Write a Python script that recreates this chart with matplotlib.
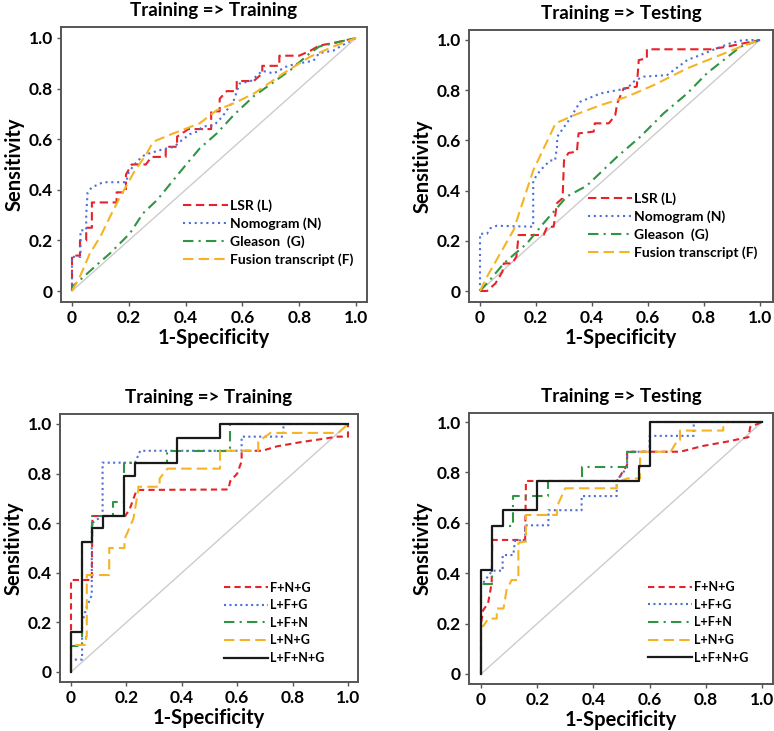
import matplotlib
matplotlib.use("Agg")
import matplotlib.pyplot as plt
import numpy as np

plt.rcParams['font.family'] = ['Lato', 'DejaVu Sans']
plt.rcParams['font.weight'] = 'bold'

# ---------------- data (1-specificity, sensitivity) ----------------
# Panel A: Training => Training (single markers)
lsr_train = [(0, 0), (0, 0.14), (0.028, 0.14), (0.028, 0.2), (0.05, 0.2), (0.05, 0.25), (0.07, 0.25),
             (0.07, 0.35), (0.157, 0.35), (0.157, 0.39), (0.19, 0.39), (0.19, 0.46), (0.21, 0.5),
             (0.26, 0.5), (0.28, 0.53), (0.33, 0.53), (0.33, 0.57), (0.37, 0.57), (0.37, 0.61),
             (0.41, 0.64), (0.49, 0.64), (0.49, 0.71), (0.52, 0.71), (0.52, 0.76), (0.545, 0.79),
             (0.58, 0.79), (0.58, 0.83), (0.64, 0.83), (0.67, 0.86), (0.67, 0.89), (0.73, 0.89),
             (0.73, 0.93), (0.8, 0.93), (0.84, 0.95), (0.87, 0.97), (0.92, 0.98), (1, 1)]
nomo_train = [(0, 0), (0, 0.135), (0.03, 0.135), (0.03, 0.24), (0.05, 0.24), (0.05, 0.3), (0.055, 0.39),
              (0.07, 0.41), (0.11, 0.43), (0.19, 0.43), (0.2, 0.47), (0.22, 0.5), (0.245, 0.53),
              (0.26, 0.54), (0.32, 0.56), (0.36, 0.57), (0.38, 0.59), (0.415, 0.62), (0.44, 0.63),
              (0.46, 0.65), (0.5, 0.655), (0.53, 0.69), (0.57, 0.755), (0.59, 0.82), (0.63, 0.83),
              (0.67, 0.87), (0.71, 0.86), (0.76, 0.89), (0.8, 0.9), (0.85, 0.91), (0.87, 0.94),
              (0.92, 0.95), (0.95, 0.97), (1, 1)]
glea_train = [(0, 0.0), (0, 0.017), (0.028, 0.043), (0.087, 0.103), (0.134, 0.149), (0.204, 0.228),
              (0.25, 0.307), (0.3, 0.36), (0.38, 0.47), (0.45, 0.564), (0.51, 0.623), (0.57, 0.696),
              (0.64, 0.77), (0.72, 0.834), (0.77, 0.874), (0.83, 0.933), (0.87, 0.966), (1, 1)]
fusi_train = [(0, 0), (0.028, 0.057), (0.063, 0.149), (0.1, 0.215), (0.134, 0.294), (0.17, 0.373),
              (0.216, 0.465), (0.263, 0.544), (0.286, 0.59), (0.357, 0.623), (0.45, 0.663),
              (0.51, 0.715), (0.57, 0.742), (0.64, 0.78), (0.744, 0.86), (0.838, 0.926),
              (0.92, 0.966), (1, 1)]

# Panel B: Training => Testing (single markers)
lsr_test = [(0, 0), (0.025, 0), (0.055, 0.03), (0.08, 0.077), (0.085, 0.11), (0.115, 0.11),
            (0.13, 0.137), (0.138, 0.223), (0.227, 0.223), (0.24, 0.256), (0.263, 0.256),
            (0.275, 0.35), (0.295, 0.37), (0.3, 0.52), (0.316, 0.55), (0.346, 0.555), (0.352, 0.628),
            (0.406, 0.635), (0.41, 0.668), (0.46, 0.668), (0.483, 0.7), (0.49, 0.748), (0.513, 0.807),
            (0.56, 0.814), (0.567, 0.92), (0.596, 0.927), (0.596, 0.963), (0.823, 0.963),
            (0.88, 0.973), (1, 1)]
nomo_test = [(0, 0), (0, 0.228), (0.025, 0.228), (0.037, 0.25), (0.06, 0.26), (0.19, 0.256),
             (0.19, 0.36), (0.19, 0.44), (0.215, 0.48), (0.25, 0.52), (0.268, 0.52), (0.275, 0.575),
             (0.276, 0.615), (0.317, 0.68), (0.358, 0.754), (0.43, 0.787), (0.49, 0.8), (0.525, 0.807),
             (0.555, 0.84), (0.585, 0.854), (0.668, 0.86), (0.74, 0.92), (0.787, 0.94),
             (0.846, 0.967), (0.894, 0.987), (0.94, 1.0), (1, 1)]
glea_test = [(0, 0), (0.04, 0.05), (0.085, 0.11), (0.168, 0.19), (0.227, 0.27), (0.31, 0.376),
             (0.382, 0.42), (0.49, 0.535), (0.573, 0.615), (0.656, 0.708), (0.74, 0.787),
             (0.81, 0.867), (0.93, 0.973), (1, 1)]
fusi_test = [(0, 0), (0.025, 0.057), (0.12, 0.243), (0.19, 0.48), (0.27, 0.668), (0.335, 0.7),
             (0.43, 0.74), (0.525, 0.774), (0.62, 0.82), (0.74, 0.887), (0.858, 0.94),
             (0.93, 0.973), (1, 1)]

# Panel C: Training => Training (combinations)
fng_train = [(0, 0), (0, 0.371), (0.075, 0.371), (0.077, 0.6), (0.077, 0.629), (0.196, 0.629),
             (0.213, 0.66), (0.237, 0.734), (0.568, 0.736), (0.575, 0.77), (0.6, 0.8), (0.616, 0.85),
             (0.616, 0.892), (0.69, 0.892), (0.744, 0.91), (0.83, 0.927), (0.91, 0.94),
             (0.96, 0.949), (1, 0.949), (1, 1)]
lfg_train = [(0, 0), (0, 0.05), (0.04, 0.05), (0.04, 0.2), (0.057, 0.263), (0.075, 0.31),
             (0.075, 0.6), (0.114, 0.63), (0.114, 0.844), (0.231, 0.844), (0.25, 0.892),
             (0.616, 0.892), (0.616, 0.949), (0.767, 0.949), (0.767, 1.0), (1, 1)]
lfn_train = [(0, 0), (0, 0.105), (0.04, 0.105), (0.04, 0.525), (0.077, 0.525), (0.077, 0.629),
             (0.153, 0.629), (0.153, 0.687), (0.191, 0.687), (0.191, 0.844), (0.345, 0.844),
             (0.345, 0.892), (0.574, 0.892), (0.574, 1.0), (1, 1)]
lng_train = [(0, 0), (0, 0.109), (0.054, 0.109), (0.054, 0.142), (0.057, 0.142), (0.057, 0.391),
             (0.138, 0.391), (0.138, 0.5), (0.193, 0.5), (0.193, 0.535), (0.225, 0.617),
             (0.243, 0.734), (0.243, 0.747), (0.32, 0.747), (0.32, 0.78), (0.348, 0.82),
             (0.538, 0.82), (0.538, 0.892), (0.676, 0.892), (0.676, 0.929), (0.72, 0.964),
             (0.965, 0.964), (1, 1)]
lfng_train = [(0, 0), (0, 0.163), (0.041, 0.163), (0.041, 0.525), (0.077, 0.525), (0.077, 0.579),
              (0.117, 0.579), (0.117, 0.629), (0.191, 0.629), (0.191, 0.79), (0.231, 0.79),
              (0.231, 0.844), (0.384, 0.844), (0.384, 0.945), (0.538, 0.945), (0.538, 1.0), (1, 1)]

# Panel D: Training => Testing (combinations)
fng_test = [(0, 0), (0, 0.2), (0.008, 0.254), (0.025, 0.28), (0.038, 0.36), (0.04, 0.532),
            (0.157, 0.532), (0.16, 0.766), (0.484, 0.766), (0.52, 0.83), (0.52, 0.882),
            (0.709, 0.882), (0.79, 0.905), (0.875, 0.922), (0.952, 0.94), (0.958, 0.98), (1, 1)]
lfg_test = [(0, 0), (0, 0.35), (0.04, 0.41), (0.077, 0.41), (0.077, 0.472), (0.115, 0.472),
            (0.121, 0.53), (0.157, 0.53), (0.157, 0.59), (0.24, 0.59), (0.24, 0.65), (0.358, 0.65),
            (0.358, 0.706), (0.483, 0.706), (0.483, 0.766), (0.52, 0.82), (0.52, 0.882),
            (0.6, 0.882), (0.6, 0.945), (0.757, 0.945), (0.757, 1.0), (1, 1)]
lfn_test = [(0, 0), (0, 0.357), (0.04, 0.357), (0.04, 0.589), (0.115, 0.589), (0.115, 0.706),
            (0.24, 0.706), (0.24, 0.766), (0.358, 0.766), (0.358, 0.823), (0.518, 0.823),
            (0.518, 0.882), (0.6, 0.882), (0.6, 1.0), (1, 1)]
lng_test = [(0, 0), (0, 0.19), (0.008, 0.19), (0.026, 0.22), (0.056, 0.22), (0.056, 0.26),
            (0.08, 0.26), (0.091, 0.333), (0.109, 0.373), (0.133, 0.373), (0.133, 0.519),
            (0.15, 0.525), (0.16, 0.525), (0.16, 0.631), (0.27, 0.631), (0.27, 0.664),
            (0.3, 0.737), (0.483, 0.737), (0.483, 0.76), (0.52, 0.776), (0.566, 0.776),
            (0.566, 0.882), (0.675, 0.882), (0.7, 0.929), (0.708, 0.929), (0.708, 0.966),
            (0.862, 0.966), (0.862, 1.0), (1, 1)]
lfng_test = [(0, 0), (0, 0.413), (0.04, 0.413), (0.04, 0.589), (0.079, 0.589), (0.079, 0.651),
             (0.2, 0.651), (0.2, 0.766), (0.561, 0.766), (0.561, 0.825), (0.603, 0.825),
             (0.603, 1.0), (1, 1)]

single_labels = ["LSR (L)", "Nomogram (N)", "Gleason  (G)", "Fusion transcript (F)"]
combo_labels = ["F+N+G", "L+F+G", "L+F+N", "L+N+G", "L+F+N+G"]
titles = ["Training => Training", "Training => Testing", "Training => Training", "Training => Testing"]
tick_vals = [0, 0.2, 0.4, 0.6, 0.8, 1.0]
tick_text = ["0", "0.2", "0.4", "0.6", "0.8", "1.0"]

RED = "#e62329"
BLUE = "#4d6fd9"
GREEN = "#2f9444"
YELLOW = "#f5b425"
BLACK = "#1a1a1a"
DIAG = "#cccccc"

single_styles = [dict(color=RED, ls=(0, (4, 2.2)), lw=1.5),
                 dict(color=BLUE, ls=(0, (1, 1.8)), lw=1.5),
                 dict(color=GREEN, ls=(0, (5, 2.5, 1, 2.5)), lw=1.5),
                 dict(color=YELLOW, ls=(0, (5, 2.5)), lw=1.5)]
combo_styles = [dict(color=RED, ls=(0, (3, 2)), lw=1.5),
                dict(color=BLUE, ls=(0, (1, 1.6)), lw=1.5),
                dict(color=GREEN, ls=(0, (5, 2.5, 1, 2.5)), lw=1.5),
                dict(color=YELLOW, ls=(0, (5, 2.5)), lw=1.5),
                dict(color=BLACK, ls='-', lw=1.6)]

fig = plt.figure(figsize=(7.74, 7.31), dpi=100)

# axes rectangles (fig fraction) and limits
rects = [(61 / 774, 1 - 302 / 731, 306 / 774, 275 / 731),
         (469 / 774, 1 - 302 / 731, 304 / 774, 272 / 731),
         (60 / 774, 1 - 682 / 731, 298 / 774, 268 / 731),
         (469 / 774, 1 - 684 / 731, 304 / 774, 271 / 731)]
xlims = [(-11 / 284, 1 + 11 / 284), (-11 / 280, 1 + 13 / 280), (-11 / 277, 1 + 10 / 277), (-12 / 281, 1 + 11 / 281)]
ylims = [(-11 / 253, 1 + 11 / 253), (-11 / 251, 1 + 10 / 251), (-10 / 248, 1 + 10 / 248), (-10 / 252, 1 + 9 / 252)]
leg_anchor = [(0.40, 0.375), (0.39, 0.405), (0.55, 0.375), (0.59, 0.38)]

panel_series = [[lsr_train, nomo_train, glea_train, fusi_train],
                [lsr_test, nomo_test, glea_test, fusi_test],
                [fng_train, lfg_train, lfn_train, lng_train, lfng_train],
                [fng_test, lfg_test, lfn_test, lng_test, lfng_test]]

for i in range(4):
    ax = fig.add_axes(rects[i])
    ax.plot([0, 1], [0, 1], color=DIAG, lw=1.0, zorder=1)
    if i < 2:
        labels, styles = single_labels, single_styles
    else:
        labels, styles = combo_labels, combo_styles
    handles = []
    for pts, lab, st in zip(panel_series[i], labels, styles):
        xs = [p[0] for p in pts]
        ys = [p[1] for p in pts]
        h, = ax.plot(xs, ys, label=lab, zorder=3, **st)
        handles.append(h)
    ax.set_xlim(*xlims[i])
    ax.set_ylim(*ylims[i])
    ax.set_xticks(tick_vals)
    ax.set_xticklabels(tick_text)
    ax.set_yticks(tick_vals)
    ax.set_yticklabels(tick_text)
    ax.tick_params(labelsize=12.5, length=3, width=1, color="#555555", pad=3)
    for lbl in ax.get_xticklabels() + ax.get_yticklabels():
        lbl.set_fontweight('bold')
    for sp in ax.spines.values():
        sp.set_color("#555555")
        sp.set_linewidth(1.4)
    ax.set_title(titles[i], fontsize=13.5, fontweight='bold', pad=8)
    ax.set_xlabel("1-Specificity", fontsize=14.5, fontweight='bold', labelpad=1)
    ax.set_ylabel("Sensitivity", fontsize=14.5, fontweight='bold', labelpad=3)
    leg = ax.legend(handles=handles, loc='upper left', bbox_to_anchor=leg_anchor[i],
                    frameon=False, fontsize=10 if i < 2 else 9, handlelength=3.2 if i < 2 else 3.5,
                    handletextpad=0.15, labelspacing=0.4 if i < 2 else 0.45,
                    borderpad=0, borderaxespad=0)
    for t in leg.get_texts():
        t.set_fontweight('bold')

fig.savefig("out.png", dpi=100)
